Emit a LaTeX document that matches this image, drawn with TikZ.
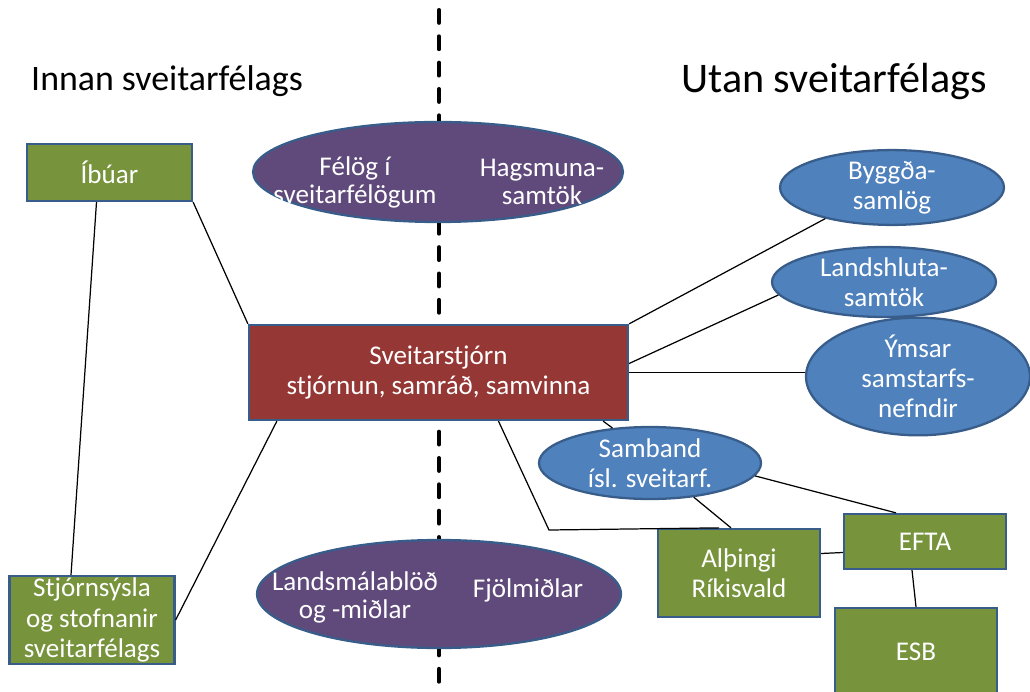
\documentclass[tikz,border=0pt]{standalone}
\usepackage{fontspec}
\setmainfont{Carlito}
\usetikzlibrary{positioning, shapes.geometric}
\usepackage{xcolor}
\definecolor{boxgreen}{HTML}{77933C}
\definecolor{boxred}{HTML}{953735}
\definecolor{blobpurple}{HTML}{604A7B}
\definecolor{blobblue}{HTML}{4F81BD}
\definecolor{edgeblue}{HTML}{385D8A}

\begin{document}
\begin{tikzpicture}[
        x=0.02cm, y=-0.02cm,
        box/.style={draw=edgeblue, line width=1.3pt, text=white, align=center,
                    inner sep=0pt, font=\fontsize{15.4}{17.2}\selectfont},
        blob/.style={ellipse, draw=edgeblue, line width=1.3pt, text=white,
                     align=center, inner sep=0pt, font=\fontsize{15.4}{17.2}\selectfont},
        blobtext/.style={text=white, align=center, font=\fontsize{15.4}{16}\selectfont},
        link/.style={black, line width=0.7pt},
        divider/.style={black, line width=2.3pt, line cap=round,
                        dash pattern=on 7.3pt off 7.7pt},
    ]
        \useasboundingbox (0,0) rectangle (1030,692);

        \coordinate (divtop) at (439,10);
        \coordinate (divbot) at (439,700);
        \draw[divider] (divtop) -- (divbot);

        \node[anchor=base, font=\fontsize{20.4}{24}\selectfont] (innan) at (167,91)
            {Innan sveitarfélags};
        \node[anchor=base, font=\fontsize{24}{28}\selectfont] (utan) at (834,93)
            {Utan sveitarfélags};

        \node[box, fill=boxgreen, minimum width=3.3cm, minimum height=1.14cm] (ibuar)
            at (109.5,172.5) {Íbúar};
        \node[box, fill=boxgreen, minimum width=3.3cm, minimum height=1.76cm] (stjorn)
            at (92,620) {Stjórnsýsla\\og stofnanir\\sveitarfélags};
        \node[box, fill=boxred, minimum width=7.58cm, minimum height=1.9cm] (sveit)
            at (438.5,372.5) {Sveitarstjórn\\stjórnun, samráð, samvinna};

        \node[blob, fill=blobpurple, minimum width=7.4cm, minimum height=2cm] (felog)
            at (438,172) {};
        \node[blobtext] (felogA) at (355,182) {Félög í\\sveitarfélögum};
        \node[blobtext] (felogB) at (542,182) {Hagsmuna-\\samtök};

        \node[blob, fill=blobpurple, minimum width=7.28cm, minimum height=2.16cm] (midlar)
            at (439,594) {};
        \node[blobtext] (midlarA) at (355,597) {Landsmálablöð\\og -miðlar};
        \node[blobtext] (midlarB) at (528,590) {Fjölmiðlar};

        \node[blob, fill=blobblue, minimum width=4.48cm, minimum height=1.42cm] (byggd)
            at (892,187.5) {Byggða-\\samlög};
        \node[blob, fill=blobblue, minimum width=4.48cm, minimum height=1.4cm] (landsh)
            at (884,282) {Landshluta-\\samtök};
        \node[blob, fill=blobblue, minimum width=4.48cm, minimum height=1.74cm] (ymsar)
            at (918,376.5) {Ýmsar\\samstarfs-\\nefndir};
        \node[blob, fill=blobblue, minimum width=4.44cm, minimum height=1.44cm] (samband)
            at (650,463) {Samband\\ísl. sveitarf.};

        \node[box, fill=boxgreen, minimum width=3.24cm, minimum height=1.76cm] (althingi)
            at (739,573) {Alþingi\\Ríkisvald};
        \node[box, fill=boxgreen, minimum width=3.24cm, minimum height=1.1cm] (efta)
            at (925,541.5) {EFTA};
        \node[box, fill=boxgreen, minimum width=3.24cm, minimum height=1.76cm] (esb)
            at (916,652) {ESB};

        \coordinate (bend) at (549,530);

        \draw[link] ([xshift=-0.26cm]ibuar.south) -- ([xshift=-0.42cm]stjorn.north);
        \draw[link] (ibuar.south east) -- (sveit.north west);
        \draw[link] (stjorn.east) -- ([xshift=0.58cm]sveit.south west);
        \draw[link] (sveit.north east) -- (byggd.205);
        \draw[link] ([yshift=0.18cm]sveit.east) -- (landsh.187);
        \draw[link] (sveit.east) -- (sveit.east -| ymsar.west);
        \draw[link] ([xshift=-0.52cm]sveit.south east) -- (samband.137);
        \draw[link] ([xshift=1.2cm]sveit.south) -- (bend) -- ([xshift=-0.4cm]althingi.north);
        \draw[link] (samband.322) -- ([xshift=-0.16cm]althingi.north);
        \draw[link] (samband.353) -- ([xshift=-0.58cm]efta.north);
        \draw[link] ([yshift=0.39cm]althingi.east) -- ([yshift=-0.22cm]efta.west);
        \draw[link] ([xshift=-0.26cm]efta.south) -- (esb.north);
    \end{tikzpicture}
\end{document}
